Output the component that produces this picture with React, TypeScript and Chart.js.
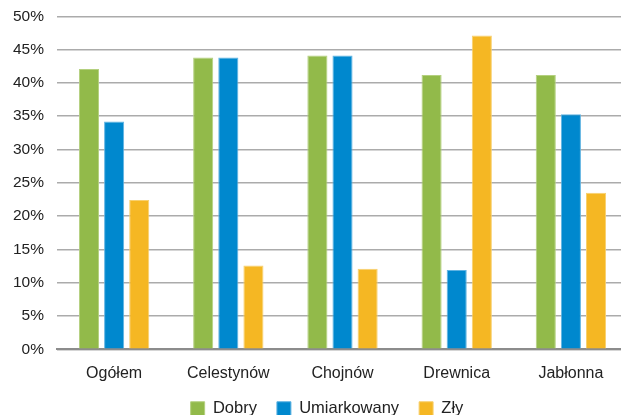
import React, { useEffect, useRef } from "react";
import { Chart, registerables } from "chart.js";

Chart.register(...registerables);

const categories = ["Ogółem", "Celestynów", "Chojnów", "Drewnica", "Jabłonna"];
const dobry = [42.1, 43.8, 44.1, 41.2, 41.2];
const umiarkowany = [34.2, 43.8, 44.1, 11.9, 35.3];
const zly = [22.4, 12.6, 12.1, 47.1, 23.5];
const seriesNames = ["Dobry", "Umiarkowany", "Zły"];

const legendNudge = {
  id: "legendNudge",
  afterLayout(chart: any) {
    const lg = chart.legend;
    if (!lg) return;
    lg.top -= 10;
    lg.bottom -= 10;
    lg.left += 13;
    lg.right += 13;
  },
};

export default function App() {
  const ref = useRef<HTMLCanvasElement | null>(null);
  useEffect(() => {
    if (!ref.current) return;
    const family = "'Liberation Sans', Arial, sans-serif";
    const chart = new Chart(ref.current, {
      type: "bar",
      data: {
        labels: categories,
        datasets: [
          { label: seriesNames[0], data: dobry, backgroundColor: "#92BA4A", borderColor: "#B4D07F", borderWidth: 1 },
          { label: seriesNames[1], data: umiarkowany, backgroundColor: "#0088CE", borderColor: "#5FB3E2", borderWidth: 1 },
          { label: seriesNames[2], data: zly, backgroundColor: "#F5B723", borderColor: "#F8D06F", borderWidth: 1 },
        ],
      },
      plugins: [legendNudge],
      options: {
        animation: false,
        responsive: false,
        maintainAspectRatio: false,
        layout: { padding: { top: 4, right: 0, left: 0, bottom: 0 } },
        datasets: { bar: { categoryPercentage: 0.66, barPercentage: 0.8 } },
        plugins: {
          legend: {
            position: "bottom",
            maxHeight: 36.5,
            labels: { font: { family, size: 16.5 }, color: "#222", boxWidth: 14, boxHeight: 14, padding: 20 },
          },
          tooltip: { enabled: false },
        },
        scales: {
          x: {
            grid: { display: false },
            border: { color: "#8C8C8C", width: 2 },
            ticks: { font: { family, size: 16 }, color: "#222", padding: 7 },
          },
          y: {
            min: 0,
            max: 50,
            border: { display: false },
            grid: { color: "#ABABAB", lineWidth: 1.5, drawTicks: false },
            ticks: {
              stepSize: 5,
              font: { family, size: 15.5 },
              color: "#222",
              padding: 13,
              callback: (v: any) => v + "%",
            },
          },
        },
      },
    });
    return () => chart.destroy();
  }, []);
  return (
    <div style={{ position: "fixed", left: 0, top: 0, width: 621, height: 415, overflow: "hidden", background: "#fff" }}>
      <canvas ref={ref} width={628} height={433} style={{ position: "absolute", left: 0, top: -6, width: 628, height: 433, display: "block" }} />
    </div>
  );
}
